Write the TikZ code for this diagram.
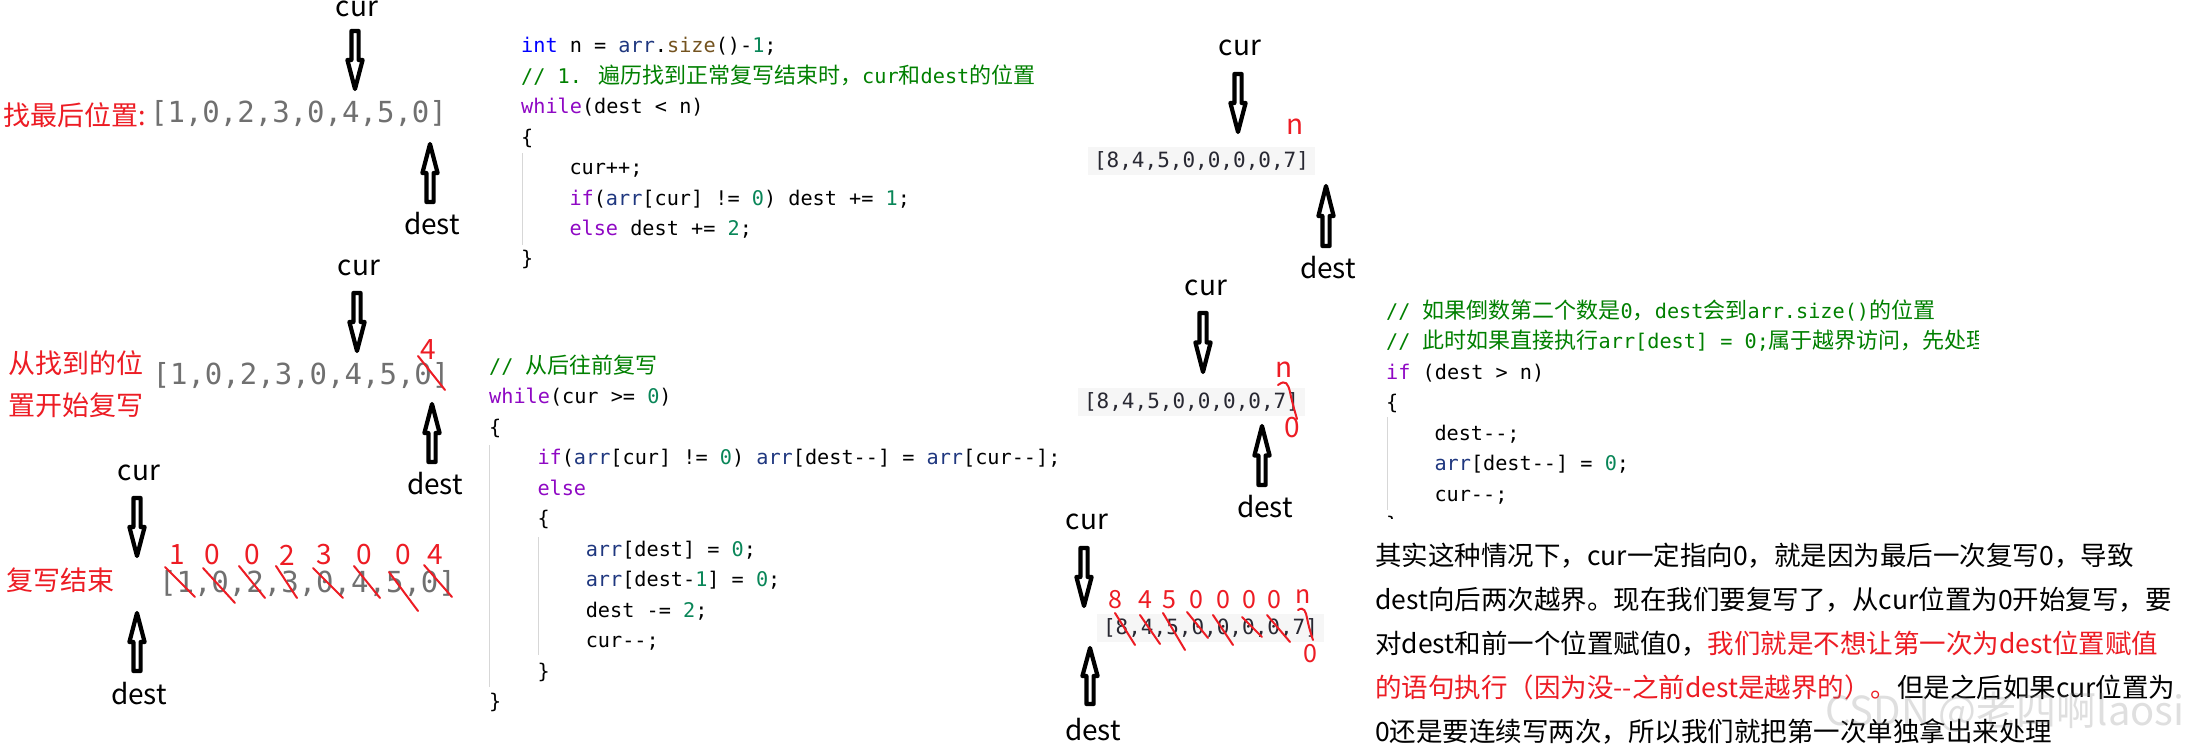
\documentclass[tikz,border=0pt]{standalone}
\usepackage{fontspec}
\setmainfont{Noto Sans CJK SC}
\newfontfamily\cdmono{DejaVu Sans Mono}
\newfontfamily\cdcjk{Noto Sans CJK SC}
\usetikzlibrary{calc}
\definecolor{cdblue}{RGB}{0,0,255}
\definecolor{cdpurple}{RGB}{143,8,196}
\definecolor{cdnavy}{RGB}{31,55,127}
\definecolor{cdbrown}{RGB}{116,83,31}
\definecolor{cdnumc}{RGB}{9,134,88}
\definecolor{cdgreen}{RGB}{0,128,0}
\definecolor{mkred}{RGB}{237,28,36}
\definecolor{arrgray}{RGB}{112,112,112}
\definecolor{arrdark}{RGB}{40,40,50}
\definecolor{boxgray}{RGB}{246,246,246}
\definecolor{guidegray}{RGB}{215,215,215}
\newcommand\cdkw[1]{\textcolor{cdblue}{#1}}
\newcommand\cdctl[1]{\textcolor{cdpurple}{#1}}
\newcommand\cdvar[1]{\textcolor{cdnavy}{#1}}
\newcommand\cdfn[1]{\textcolor{cdbrown}{#1}}
\newcommand\cdnum[1]{\textcolor{cdnumc}{#1}}
\newcommand\cz[1]{{\cdcjk\fontsize{22}{26}\selectfont #1}}
\newcommand\dm{-\kern0pt-}
\begin{document}
\begin{tikzpicture}[x=1pt,y=-1pt,
  lbl/.style={anchor=center, inner sep=0pt, font=\fontsize{28}{32}\selectfont},
  redlbl/.style={anchor=west, inner sep=0pt, text=mkred, font=\fontsize{27}{30}\selectfont},
  redmk/.style={anchor=center, inner sep=0pt, text=mkred, font=\fontsize{28}{30}\selectfont},
  redsm/.style={anchor=center, inner sep=0pt, text=mkred, font=\fontsize{25}{28}\selectfont},
  arrL/.style={anchor=center, inner sep=0pt, text=arrgray, font=\cdmono\fontsize{29}{32}\selectfont},
  arrR/.style={anchor=center, fill=boxgray, inner xsep=6pt, inner ysep=0pt, minimum width=227pt, minimum height=28pt, text=arrdark, font=\cdmono\fontsize{21}{24}\selectfont},
  code/.style={anchor=base west, inner sep=0pt, font=\cdmono\fontsize{20.2}{24}\selectfont},
  cmt/.style={code, text=cdgreen},
  guide/.style={draw=guidegray, line width=1pt},
  strike/.style={draw=mkred, line width=2pt, line cap=round},
  para/.style={anchor=base west, inner sep=0pt, font=\fontsize{26.5}{30}\selectfont},
  blockarr/.style={draw, line width=4.2pt, line join=round,
    to path={let \p1=(\tikztostart), \p2=(\tikztotarget), \n1={0.5*(\y1+\y2)} in
      (\x1-3.6pt,\y1) -- (\x1+3.6pt,\y1) -- (\x1+3.6pt,\n1) -- (\x1+7.6pt,\n1)
      -- (\x1,\y2) -- (\x1-7.6pt,\n1) -- (\x1-3.6pt,\n1) -- cycle}}
]
\useasboundingbox (0,0) rectangle (2195,752);
\fill[white] (0,0) rectangle (2195,752);

% ---------- Section A ----------
\node[lbl] (curA) at (357,9) {cur};
\coordinate (aA1) at (355,31); \coordinate (aA2) at (355,89);
\draw[blockarr] (aA1) to (aA2);
\node[redlbl] (labA) at (3,115) {找最后位置:};
\node[arrL] (arrA) at (298.5,114) {[1,0,2,3,0,4,5,0]};
\coordinate (dA1) at (430,202); \coordinate (dA2) at (430,144);
\draw[blockarr] (dA1) to (dA2);
\node[lbl] (destA) at (432,224) {dest};

% ---------- Section B ----------
\node[lbl] (curB) at (359,268) {cur};
\coordinate (aB1) at (357,293); \coordinate (aB2) at (357,351);
\draw[blockarr] (aB1) to (aB2);
\node[redlbl] (labB1) at (8,363) {从找到的位};
\node[redlbl] (labB2) at (8,405) {置开始复写};
\node[arrL] (arrB) at (301,376) {[1,0,2,3,0,4,5,0]};
\node[redmk] (fourB) at (428,350) {4};
\draw[strike] (418,356) -- (445,390);
\coordinate (dB1) at (432,462); \coordinate (dB2) at (432,404);
\draw[blockarr] (dB1) to (dB2);
\node[lbl] (destB) at (435,484) {dest};

% ---------- Section C ----------
\node[lbl] (curC) at (139,473) {cur};
\coordinate (aC1) at (137,498); \coordinate (aC2) at (137,556);
\draw[blockarr] (aC1) to (aC2);
\node[redlbl] (labC) at (6,580) {复写结束};
\node[arrL] (arrC) at (307.5,584) {[1,0,2,3,0,4,5,0]};
\foreach \xx/\dd in {177/1,212/0,252/0,287/2,324/3,364/0,403/0,435/4}
  \node[redmk] at (\xx,555) {\dd};
\draw[strike] (165,567) -- (195,597);
\draw[strike] (203,568) -- (235,603);
\draw[strike] (239,566) -- (265,598);
\draw[strike] (276,566) -- (297,598);
\draw[strike] (313,568) -- (343,598);
\draw[strike] (354,566) -- (380,598);
\draw[strike] (389,572) -- (418,611);
\draw[strike] (424,565) -- (452,597);
\coordinate (dC1) at (137,671); \coordinate (dC2) at (137,613);
\draw[blockarr] (dC1) to (dC2);
\node[lbl] (destC) at (139,694) {dest};

% ---------- Code block 1 ----------
\draw[guide] (522,153) -- (522,245);
\node[code] (c1a) at (521,53) {\cdkw{int} n = \cdvar{arr}.\cdfn{size}()-\cdnum{1};};
\node[cmt] (c1b) at (521,83.4) {// 1. \cz{遍历找到正常复写结束时，}cur\cz{和}dest\cz{的位置}};
\node[code] (c1c) at (521,113.8) {\cdctl{while}(dest < n)};
\node[code] (c1d) at (521,144.2) {\{};
\node[code] (c1e) at (569.3,174.6) {cur++;};
\node[code] (c1f) at (569.3,205) {\cdctl{if}(\cdvar{arr}[cur] != \cdnum{0}) dest += \cdnum{1};};
\node[code] (c1g) at (569.3,235.4) {\cdctl{else} dest += \cdnum{2};};
\node[code] (c1h) at (521,265.8) {\}};

% ---------- Code block 2 ----------
\draw[guide] (489,445) -- (489,687);
\draw[guide] (538,537) -- (538,655);
\node[cmt] (c2a) at (489,373) {// \cz{从后往前复写}};
\node[code] (c2b) at (489,403.5) {\cdctl{while}(cur >= \cdnum{0})};
\node[code] (c2c) at (489,434) {\{};
\node[code] (c2d) at (537.3,464.5) {\cdctl{if}(\cdvar{arr}[cur] != \cdnum{0}) \cdvar{arr}[dest\dm] = \cdvar{arr}[cur\dm];};
\node[code] (c2e) at (537.3,495) {\cdctl{else}};
\node[code] (c2f) at (537.3,525.5) {\{};
\node[code] (c2g) at (585.6,556) {\cdvar{arr}[dest] = \cdnum{0};};
\node[code] (c2h) at (585.6,586.5) {\cdvar{arr}[dest-\cdnum{1}] = \cdnum{0};};
\node[code] (c2i) at (585.6,617) {dest -= \cdnum{2};};
\node[code] (c2j) at (585.6,647.5) {cur\dm;};
\node[code] (c2k) at (537.3,678) {\}};
\node[code] (c2l) at (489,708.5) {\}};

% ---------- Right arrays ----------
% D
\node[lbl] (curD) at (1240,48) {cur};
\coordinate (aD1) at (1238,74); \coordinate (aD2) at (1238,132);
\draw[blockarr] (aD1) to (aD2);
\node[arrR] (arrD) at (1201.5,161) {[8,4,5,0,0,0,0,7]};
\node[redmk] (nD) at (1295,127) {n};
\coordinate (dD1) at (1326,246); \coordinate (dD2) at (1326,186);
\draw[blockarr] (dD1) to (dD2);
\node[lbl] (destD) at (1328,268) {dest};
% E
\node[lbl] (curE) at (1206,288) {cur};
\coordinate (aE1) at (1203,313); \coordinate (aE2) at (1203,372);
\draw[blockarr] (aE1) to (aE2);
\node[arrR] (arrE) at (1191.5,401.5) {[8,4,5,0,0,0,0,7]};
\node[redmk] (nE) at (1284,370) {n};
\draw[strike] (1278,385) .. controls (1286,379) and (1288,384) .. (1290,392) .. controls (1292,402) and (1295,412) .. (1297,419);
\node[redmk] (zE) at (1292,428) {0};
\coordinate (dE1) at (1262,485); \coordinate (dE2) at (1262,426);
\draw[blockarr] (dE1) to (dE2);
\node[lbl] (destE) at (1265,507) {dest};
% F
\node[lbl] (curF) at (1087,522) {cur};
\coordinate (aF1) at (1084,548); \coordinate (aF2) at (1084,606);
\draw[blockarr] (aF1) to (aF2);
\node[arrR] (arrF) at (1210.5,627.5) {[8,4,5,0,0,0,0,7]};
\foreach \xx/\dd in {1115/8,1145/4,1169/5,1196/0,1223/0,1249/0,1274/0}
  \node[redsm] at (\xx,600) {\dd};
\node[redsm] (nF) at (1303,597) {n};
\node[redsm] (zF) at (1310,654) {0};
\draw[strike] (1115,613) -- (1135,645);
\draw[strike] (1140,615) -- (1160,644);
\draw[strike] (1163,613) -- (1185,650);
\draw[strike] (1187,612) -- (1208,638);
\draw[strike] (1213,615) -- (1233,645);
\draw[strike] (1242,617) -- (1262,637);
\draw[strike] (1267,615) -- (1290,642);
\draw[strike] (1298,610) .. controls (1304,606) and (1306,612) .. (1307,618) .. controls (1309,628) and (1311,634) .. (1313,640);
\coordinate (dF1) at (1090,704); \coordinate (dF2) at (1090,648);
\draw[blockarr] (dF1) to (dF2);
\node[lbl] (destF) at (1093,730) {dest};

% ---------- Code block 3 ----------
\begin{scope}
\clip (1375,290) rectangle (1978,518);
\draw[guide] (1387,417) -- (1387,510);
\node[cmt] (c3a) at (1386,318) {// \cz{如果倒数第二个数是}0\cz{，}dest\cz{会到}arr.size()\cz{的位置}};
\node[cmt] (c3b) at (1386,348.5) {// \cz{此时如果直接执行}arr[dest] = 0;\cz{属于越界访问，先处理}};
\node[code] (c3c) at (1386,379) {\cdctl{if} (dest > n)};
\node[code] (c3d) at (1386,409.5) {\{};
\node[code] (c3e) at (1434.3,440) {dest\dm;};
\node[code] (c3f) at (1434.3,470.5) {\cdvar{arr}[dest\dm] = \cdnum{0};};
\node[code] (c3g) at (1434.3,501) {cur\dm;};
\node[code] (c3h) at (1386,531.5) {\}};
\end{scope}

% ---------- Paragraph ----------
\node[para] (p1) at (1375,565) {其实这种情况下，cur一定指向0，就是因为最后一次复写0，导致};
\node[para] (p2) at (1375,609) {dest向后两次越界。现在我们要复写了，从cur位置为0开始复写，要};
\node[para] (p3) at (1375,653) {对dest和前一个位置赋值0，\textcolor{mkred}{我们就是不想让第一次为dest位置赋值}};
\node[para] (p4) at (1375,697) {\textcolor{mkred}{的语句执行（因为没\dm 之前dest是越界的）。}但是之后如果cur位置为};
\node[para] (p5) at (1375,741) {0还是要连续写两次，所以我们就把第一次单独拿出来处理};

% watermark
\node[anchor=west, inner sep=0pt, text=gray, opacity=0.25, font=\fontsize{40}{44}\selectfont] (wm) at (1825,712) {CSDN @老四啊laosi};
\end{tikzpicture}
\end{document}
